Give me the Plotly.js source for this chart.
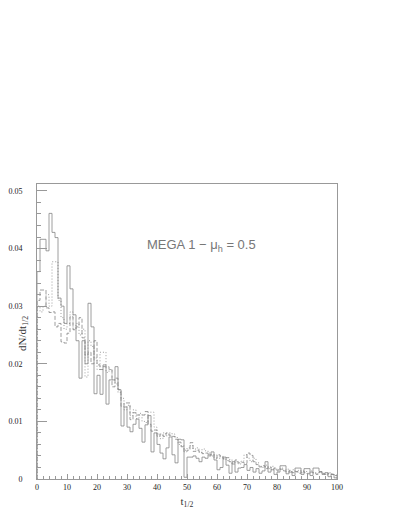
<!DOCTYPE html>
<html>
<head>
<meta charset="utf-8">
<script src="https://cdn.plot.ly/plotly-3.0.1.min.js"></script>
<style>
  html, body { margin: 0; padding: 0; background: #fff; }
  #plotArea { width: 400px; height: 517px; }
</style>
</head>
<body>
<div id="plotArea"></div>
<script>
// bin contents, t1/2 bins of width 1 from 0 to 100
var solid = [
  0.036, 0.0416, 0.0416, 0.0396, 0.0461, 0.0428, 0.0419, 0.0314, 0.030, 0.027,
  0.037, 0.033, 0.0285, 0.024, 0.0175, 0.024, 0.020, 0.0305, 0.0264, 0.0148,
  0.018, 0.0147, 0.0198, 0.013, 0.0172, 0.0172, 0.0195, 0.0155, 0.0092, 0.0125,
  0.009, 0.0082, 0.0095, 0.0104, 0.0088, 0.0064, 0.0094, 0.011, 0.0047, 0.008,
  0.006, 0.0045, 0.0035, 0.0054, 0.0073, 0.0042, 0.0028, 0.0069, 0.0068, 0.0003,
  0.0038, 0.0038, 0.0040, 0.0036, 0.003, 0.0038, 0.0036, 0.0042, 0.0047, 0.0033,
  0.0016, 0.002, 0.0038, 0.0024, 0.001, 0.003, 0.0012, 0.0019, 0.002, 0.0025,
  0.0015, 0.002, 0.0012, 0.0018, 0.001, 0.0014, 0.003, 0.0012, 0.0016, 0.0008,
  0.0012, 0.0023, 0.0023, 0.0009, 0.0012, 0.0006, 0.0019, 0.0019, 0.0008, 0.0018,
  0.0018, 0.0006, 0.0019, 0.0019, 0.0013, 0.0008, 0.0011, 0.0004, 0.0008, 0.0002
];

var dashed = [
  0.031, 0.0328, 0.0328, 0.0297, 0.0289, 0.029, 0.0264, 0.027, 0.0238, 0.0236,
  0.0253, 0.0282, 0.0259, 0.0264, 0.028, 0.0245, 0.0215, 0.022, 0.020, 0.024,
  0.0198, 0.019, 0.0195, 0.0195, 0.019, 0.016, 0.0175, 0.0155, 0.0126, 0.0132,
  0.0132, 0.0103, 0.0115, 0.0111, 0.0111, 0.0111, 0.0117, 0.0095, 0.0083, 0.0085,
  0.0074, 0.0078, 0.0074, 0.008, 0.0076, 0.0074, 0.0069, 0.0064, 0.0056, 0.0047,
  0.005, 0.0063, 0.0048, 0.0050, 0.0047, 0.0044, 0.0045, 0.0040, 0.0042, 0.0036,
  0.0042, 0.0038, 0.0035, 0.0037, 0.003, 0.0026, 0.0033, 0.0028, 0.0029, 0.0027,
  0.0045, 0.0041, 0.003, 0.0025, 0.0021, 0.0023, 0.0018, 0.0021, 0.0016, 0.0019,
  0.0014, 0.0017, 0.0014, 0.0012, 0.0015, 0.0011, 0.0013, 0.0010, 0.0014, 0.0011,
  0.0009, 0.0012, 0.0010, 0.0008, 0.0012, 0.0009, 0.0007, 0.0010, 0.0008, 0.0006
];

var dotted = [
  0.030, 0.029, 0.030, 0.032, 0.030, 0.0377, 0.0377, 0.031, 0.028, 0.026,
  0.027, 0.029, 0.026, 0.027, 0.025, 0.026, 0.0177, 0.024, 0.023, 0.021,
  0.019, 0.022, 0.022, 0.0185, 0.019, 0.0172, 0.0165, 0.0150, 0.0140, 0.0120,
  0.0128, 0.0110, 0.0120, 0.0105, 0.0114, 0.0100, 0.0098, 0.0116, 0.0116, 0.0090,
  0.0078, 0.0070, 0.0080, 0.0075, 0.0080, 0.0078, 0.0072, 0.0060, 0.0058, 0.0050,
  0.0054, 0.0058, 0.0052, 0.0054, 0.0046, 0.0052, 0.0049, 0.0045, 0.0040, 0.0042,
  0.0036, 0.0040, 0.0035, 0.0032, 0.0034, 0.0028, 0.0030, 0.0026, 0.0031, 0.0042,
  0.0036, 0.0030, 0.0036, 0.0028, 0.0022, 0.0020, 0.0024, 0.0018, 0.0022, 0.0017,
  0.0016, 0.0019, 0.0015, 0.0017, 0.0013, 0.0016, 0.0012, 0.0015, 0.0011, 0.0013,
  0.0010, 0.0014, 0.0011, 0.0009, 0.0012, 0.0010, 0.0008, 0.0011, 0.0009, 0.0007
];

var binLow = 0;
var binWidth = 1;
var xTickVals = [0, 10, 20, 30, 40, 50, 60, 70, 80, 90, 100];
var yTickVals = [0, 0.01, 0.02, 0.03, 0.04, 0.05];
var yTickText = ["0", "0.01", "0.02", "0.03", "0.04", "0.05"];

// histogram outline: up from zero at the first edge, steps, down at the last edge
function outline(vals) {
  var xs = [binLow], ys = [0];
  for (var i = 0; i < vals.length; i++) {
    xs.push(binLow + i * binWidth);
    ys.push(vals[i]);
  }
  var last = binLow + vals.length * binWidth;
  xs.push(last); ys.push(vals[vals.length - 1]);
  xs.push(last); ys.push(0);
  return {x: xs, y: ys};
}

function histTrace(vals, dash) {
  var o = outline(vals);
  return {
    x: o.x, y: o.y,
    type: "scatter", mode: "lines",
    line: {shape: "hv", color: "#858585", width: 0.8, dash: dash},
    hoverinfo: "skip", showlegend: false
  };
}

var data = [
  histTrace(dashed, "4px,2px"),
  histTrace(dotted, "1px,2px"),
  histTrace(solid, "solid")
];

var serif = "Liberation Serif, Times New Roman, serif";
var axisGrey = "#999999";

var layout = {
  width: 400, height: 517,
  margin: {l: 37, r: 63, t: 184, b: 38},
  paper_bgcolor: "#fff", plot_bgcolor: "#fff",
  showlegend: false,
  xaxis: {
    range: [0, 100], showgrid: false, zeroline: false,
    showline: true, mirror: true, linecolor: axisGrey, linewidth: 1,
    ticks: "inside", ticklen: 5, tickcolor: axisGrey,
    tickvals: xTickVals,
    minor: {ticks: "inside", dtick: 2, ticklen: 3, tickcolor: axisGrey, showgrid: false},
    tickfont: {family: serif, size: 8, color: "#222"},
    title: {text: "t<sub>1/2</sub>", font: {family: serif, size: 11, color: "#333"}, standoff: 6}
  },
  yaxis: {
    range: [0, 0.0512], showgrid: false, zeroline: false,
    showline: true, mirror: true, linecolor: axisGrey, linewidth: 1,
    ticks: "inside", ticklen: 10, tickcolor: axisGrey,
    tickvals: yTickVals, ticktext: yTickText,
    ticklabelstandoff: 12,
    minor: {ticks: "inside", dtick: 0.002, ticklen: 4, tickcolor: axisGrey, showgrid: false},
    tickfont: {family: serif, size: 8, color: "#222"}
  },
  annotations: [{
    xref: "x", yref: "y", x: 73.5, y: 0.0406, xanchor: "right",
    text: "MEGA 1 \u2212 \u03bc<sub>h</sub> = 0.5",
    showarrow: false,
    font: {family: "Liberation Sans, Arial, sans-serif", size: 13, color: "#777"}
  }, {
    xref: "paper", yref: "paper", x: -0.077, y: 0.495,
    text: "dN/dt<sub>1/2</sub>", textangle: -90,
    showarrow: false,
    font: {family: serif, size: 11, color: "#333"}
  }]
};

Plotly.newPlot("plotArea", data, layout, {staticPlot: true, displayModeBar: false});
</script>
</body>
</html>
